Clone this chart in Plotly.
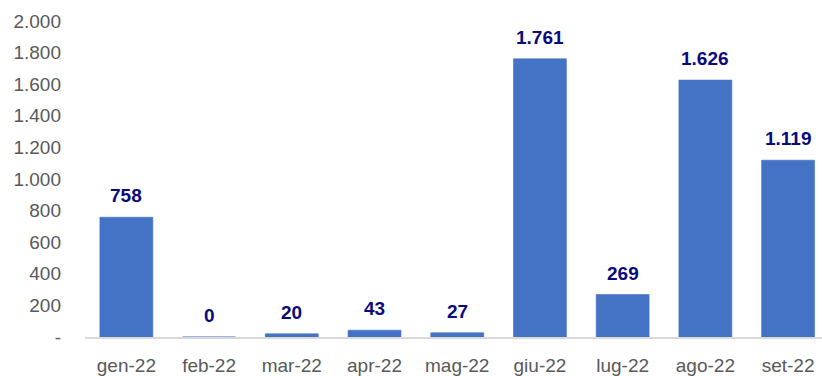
import plotly.graph_objects as go

# Monthly values, 2022
months = ["gen-22", "feb-22", "mar-22", "apr-22", "mag-22", "giu-22", "lug-22", "ago-22", "set-22"]
values = [758, 0, 20, 43, 27, 1761, 269, 1626, 1119]

# Y axis ticks
y_ticks = [0, 200, 400, 600, 800, 1000, 1200, 1400, 1600, 1800, 2000]


def it_num(v):
    """Italian thousands formatting: 1761 -> 1.761"""
    return f"{v:,.0f}".replace(",", ".")


y_tick_text = ["-" if v == 0 else it_num(v) for v in y_ticks]

BAR = "#4472C4"
LABEL = "#0A0A7E"
TICK = "#595959"
FONT = "Liberation Sans, Arial, sans-serif"

fig = go.Figure()
fig.add_trace(go.Bar(
    x=months,
    y=values,
    marker=dict(color=BAR, line=dict(color=BAR, width=0.6)),
    hoverinfo="x+y",
))

for m, v in zip(months, values):
    fig.add_annotation(
        x=m, y=v, text=f"<b>{it_num(v)}</b>",
        showarrow=False, yanchor="bottom", yshift=9,
        font=dict(family=FONT, size=19, color=LABEL),
    )

fig.update_layout(
    width=822, height=376,
    margin=dict(l=85, r=0, t=21, b=35),
    paper_bgcolor="white", plot_bgcolor="white",
    bargap=0.36,
    showlegend=False,
    font=dict(family=FONT, size=19, color=TICK),
    xaxis=dict(
        range=[-0.5, 8.41],
        showgrid=False, zeroline=False,
        showline=True, linecolor="#D9D9D9", linewidth=1.5,
        ticks="", ticklabelstandoff=10,
        tickfont=dict(family=FONT, size=19, color=TICK),
    ),
    yaxis=dict(
        range=[0, 2000],
        tickvals=y_ticks, ticktext=y_tick_text,
        showgrid=False, zeroline=False, showline=False,
        ticks="", ticklabelstandoff=23,
        tickfont=dict(family=FONT, size=19, color=TICK),
    ),
)

fig.write_html("out.html")
